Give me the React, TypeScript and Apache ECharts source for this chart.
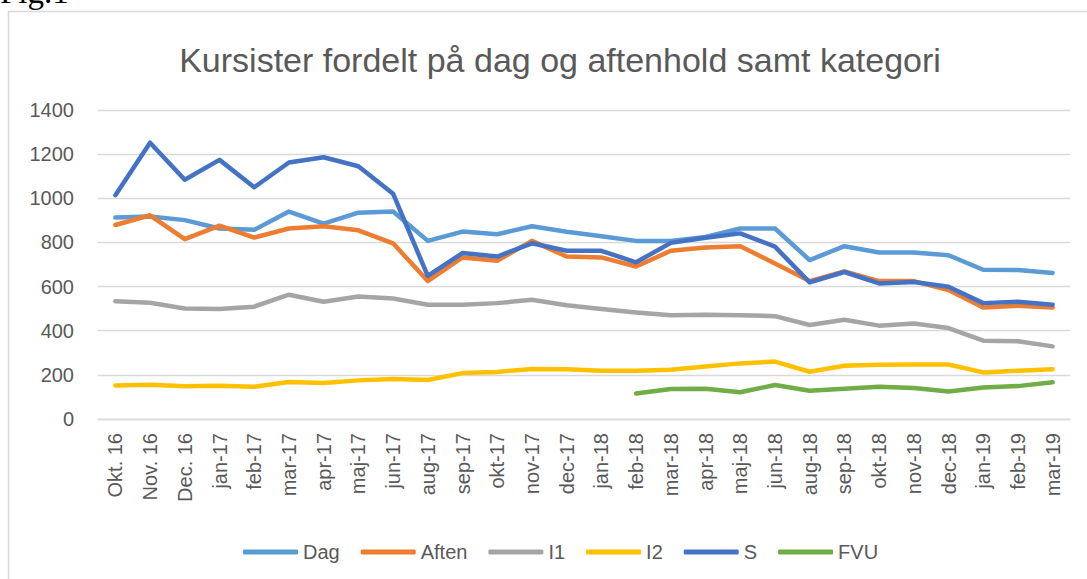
import React, { useEffect, useRef } from "react";
import * as echarts from "echarts";

const categories = ["Okt. 16","Nov. 16","Dec. 16","jan-17","feb-17","mar-17","apr-17","maj-17","jun-17","aug-17","sep-17","okt-17","nov-17","dec-17","jan-18","feb-18","mar-18","apr-18","maj-18","jun-18","aug-18","sep-18","okt-18","nov-18","dec-18","jan-19","feb-19","mar-19"];

const dag = [913, 917, 901, 863, 857, 940, 885, 935, 940, 807, 849, 837, 873, 848, 828, 807, 807, 825, 863, 863, 720, 783, 754, 754, 742, 676, 675, 662];
const aften = [879, 923, 815, 876, 822, 863, 873, 855, 796, 625, 732, 717, 807, 736, 732, 691, 762, 777, 783, 705, 625, 669, 625, 625, 584, 505, 513, 505];
const i1 = [533, 527, 501, 498, 509, 563, 531, 555, 546, 518, 518, 525, 540, 515, 498, 483, 470, 472, 470, 466, 426, 450, 423, 433, 412, 355, 352, 329];
const i2 = [152, 155, 148, 151, 146, 168, 163, 175, 181, 177, 208, 213, 227, 225, 219, 219, 223, 238, 252, 260, 214, 241, 246, 247, 247, 211, 219, 225];
const s = [1014, 1252, 1084, 1174, 1050, 1162, 1186, 1145, 1021, 648, 752, 736, 796, 762, 762, 710, 798, 821, 841, 781, 619, 666, 614, 621, 599, 525, 531, 518];
const fvu = [null, null, null, null, null, null, null, null, null, null, null, null, null, null, null, 116, 136, 137, 121, 154, 128, 137, 146, 140, 125, 143, 149, 166];

const yTicks = [0, 200, 400, 600, 800, 1000, 1200, 1400];

const seriesDefs = [
  { name: "Dag", data: dag, color: "#5B9BD5" },
  { name: "Aften", data: aften, color: "#ED7D31" },
  { name: "I1", data: i1, color: "#A5A5A5" },
  { name: "I2", data: i2, color: "#FFC000" },
  { name: "S", data: s, color: "#4472C4" },
  { name: "FVU", data: fvu, color: "#70AD47" },
];

const FONT = "Liberation Sans";
const TXT = "#595959";

export default function App() {
  const ref = useRef<HTMLDivElement>(null);
  useEffect(() => {
    if (!ref.current) return;
    const chart = echarts.init(ref.current, null, { renderer: "svg" });
    chart.setOption({
      animation: false,
      backgroundColor: "#ffffff",
      graphic: [
        {
          type: "rect",
          shape: { x: 8.5, y: 11.5, width: 1200, height: 800 },
          style: { fill: "none", stroke: "#D9D9D9", lineWidth: 1.5 },
          z: -1,
        },
        {
          type: "text",
          x: 0,
          y: -8,
          style: {
            text: "Fig.1",
            font: "33px 'Liberation Serif'",
            fill: "#000000",
            verticalAlign: "middle",
            align: "left",
          },
        },
      ],
      title: {
        text: "Kursister fordelt på dag og aftenhold samt kategori",
        left: 555,
        top: 38,
        textAlign: "center",
        textStyle: { fontFamily: FONT, fontSize: 34, fontWeight: "normal", color: TXT },
      },
      legend: {
        left: 238,
        top: 537,
        icon: "roundRect",
        itemWidth: 55,
        itemHeight: 5,
        itemGap: 21,
        textStyle: { fontFamily: FONT, fontSize: 20, color: TXT },
        data: seriesDefs.map((d) => d.name),
      },
      grid: { left: 98, right: 17, top: 110, bottom: 160, containLabel: false },
      xAxis: {
        type: "category",
        data: categories,
        boundaryGap: true,
        axisLine: { show: true, lineStyle: { color: "#D9D9D9", width: 1.3 } },
        axisTick: { show: false },
        axisLabel: {
          rotate: 90,
          interval: 0,
          margin: 14,
          fontFamily: FONT,
          fontSize: 20,
          color: TXT,
        },
      },
      yAxis: {
        type: "value",
        min: yTicks[0],
        max: yTicks[yTicks.length - 1],
        interval: 200,
        axisLine: { show: false },
        axisTick: { show: false },
        splitLine: { lineStyle: { color: "#D9D9D9", width: 1.3 } },
        axisLabel: {
          margin: 24,
          fontFamily: FONT,
          fontSize: 20,
          color: TXT,
          formatter: (v: number) => String(v),
        },
      },
      series: seriesDefs.map((d) => ({
        name: d.name,
        type: "line",
        data: d.data,
        symbol: "none",
        connectNulls: false,
        color: d.color,
        lineStyle: { color: d.color, width: 4.5, cap: "round", join: "round" },
        itemStyle: { color: d.color },
      })),
    });
    return () => chart.dispose();
  }, []);
  return (
    <div
      ref={ref}
      style={{ position: "absolute", left: 0, top: 0, width: 1087, height: 579 }}
    />
  );
}
